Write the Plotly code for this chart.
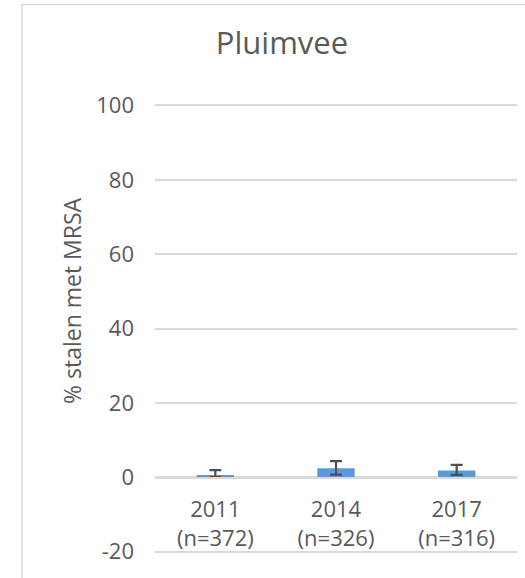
import plotly.graph_objects as go

# Pluimvee - % stalen met MRSA
years = ['2011', '2014', '2017']
n_samples = [372, 326, 316]
pct_mrsa = [0.6, 2.4, 1.8]
ci_upper = [1.9, 4.3, 3.3]
ci_lower = [0.0, 0.7, 0.6]
y_ticks = [-20, 0, 20, 40, 60, 80, 100]

labels = [f'{y}<br>(n={n})' for y, n in zip(years, n_samples)]
err_plus = [u - v for u, v in zip(ci_upper, pct_mrsa)]
err_minus = [v - l for v, l in zip(pct_mrsa, ci_lower)]

grey_text = '#595959'
grid_col = '#d9d9d9'
font_fam = 'Open Sans, sans-serif'

W, H = 525, 578
left, top, bottom_px = 155, 104, 553
plot_w = W - 8 - left
plot_h = bottom_px - top

fig = go.Figure(go.Bar(
    x=labels,
    y=pct_mrsa,
    marker=dict(color='#5b9bd5', line=dict(width=0)),
    error_y=dict(type='data', symmetric=False, array=err_plus, arrayminus=err_minus,
                 color='#505050', thickness=2.2, width=6),
))

fig.update_layout(
    width=W, height=H,
    margin=dict(l=left, r=8, t=top, b=H - bottom_px),
    paper_bgcolor='white', plot_bgcolor='white',
    font=dict(family=font_fam, color=grey_text),
    bargap=0.69,
    showlegend=False,
    title=dict(text='Pluimvee', x=282 / W, xref='container', xanchor='center',
               y=1 - 43 / H, yref='container', yanchor='middle',
               font=dict(size=31, color=grey_text)),
    xaxis=dict(
        type='category', anchor='free', position=20 / 120,
        showline=True, linecolor=grid_col, linewidth=1.5,
        showgrid=False, ticks='', ticklabelstandoff=12,
        tickfont=dict(size=22, color=grey_text),
    ),
    yaxis=dict(
        range=[-20.4, 100.4],
        tickvals=y_ticks, ticktext=[str(v) for v in y_ticks],
        showgrid=True, gridcolor=grid_col, gridwidth=1.5,
        zeroline=False, showline=False, ticks='',
        ticklabelstandoff=20,
        tickfont=dict(size=22, color=grey_text),
    ),
    annotations=[dict(
        text='% stalen met MRSA', textangle=-90,
        x=(72 - left) / plot_w, y=(bottom_px - 301) / plot_h, xref='paper', yref='paper',
        xanchor='center', yanchor='middle', showarrow=False,
        font=dict(size=23, color=grey_text),
    )],
    shapes=[dict(
        type='rect', xref='paper', yref='paper',
        x0=(22 - left) / plot_w, x1=1.2, y0=-0.3, y1=1 + (top - 4.5) / plot_h,
        line=dict(color=grid_col, width=1.5), fillcolor='rgba(0,0,0,0)', layer='below',
    )],
)

# drop the default 8px page margin so the figure sits at the window's corner
fig.write_html('out.html', config={'displayModeBar': False},
               post_script="document.body.style.margin='0px';")
